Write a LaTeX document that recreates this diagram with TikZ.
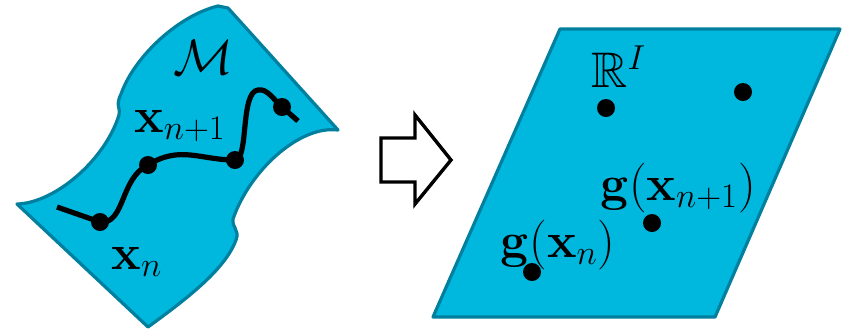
\documentclass[tikz,border=0pt]{standalone}
\usepackage{amsmath}
\usepackage{amssymb}
\usepackage{xcolor}
\usepackage{tikz}
\usetikzlibrary{positioning,calc}
\definecolor{sheetfill}{RGB}{0,183,222}
\definecolor{sheetedge}{RGB}{0,128,158}

\begin{document}
\begin{tikzpicture}[x=0.5pt, y=-0.5pt,
    sheet/.style={fill=sheetfill, draw=sheetedge, line width=1.6pt, line join=round},
    pt/.style={circle, fill=black, inner sep=0pt, minimum size=9pt},
    lbl/.style={font=\fontsize{25}{29}\selectfont, inner sep=0pt}]

\useasboundingbox (0,0) rectangle (846,329);

% curved sheet on the left
\draw[sheet] (218,6) -- (228,8) -- (338,130)
    .. controls (300,125) and (250,170) .. (233,219)
    .. controls (231,226) and (240,230) .. (236,240)
    .. controls (225,270) and (185,300) .. (148,327)
    -- (17,204)
    .. controls (55,203) and (105,160) .. (119,115)
    .. controls (121,108) and (115,106) .. (121,94)
    .. controls (135,55) and (180,15) .. (218,6) -- cycle;

\node[lbl] (manif) at (203,57) {$\mathcal{M}$};

\coordinate (cstart) at (57,207);
\coordinate (ctop) at (258,90);
\coordinate (cend) at (298,121);
\node[pt] (d1) at (100,222) {};
\node[pt] (d2) at (148,165) {};
\node[pt] (d3) at (235,160) {};
\node[pt] (d4) at (282,107) {};

\draw[line width=2.6pt] (cstart) -- (d1.center)
    .. controls (125,225) and (120,178) .. (d2.center)
    .. controls (180,145) and (200,160) .. (d3.center)
    .. controls (249,160) and (240,92) .. (ctop)
    .. controls (267,88) and (274,100) .. (d4.center) -- (cend);

\node[lbl] (xnext) at (180,126) {$\mathbf{x}_{n+1}$};
\node[lbl] (xcur) at (137,262) {$\mathbf{x}_{n}$};

% block arrow
\draw[line width=1.7pt, fill=white, line join=miter]
    (381,138) -- (415,138) -- (415,115) -- (451,160) -- (415,204)
    -- (415,182) -- (381,182) -- cycle;

% flat plane on the right
\draw[sheet] (560,29) -- (840,29) -- (715,317) -- (433,317) -- cycle;

\node[lbl] (space) at (619,67) {$\mathbb{R}^{I}$};

\node[pt] (e1) at (606,108) {};
\node[pt] (e2) at (743,92) {};
\node[pt] (gnext) at (652,223) {};
\node[pt] (gcur) at (532,272) {};

\node[lbl] (gxnext) at (678,188) {$\mathbf{g}(\mathbf{x}_{n+1})$};
\node[lbl] (gxcur) at (558,245) {$\mathbf{g}(\mathbf{x}_{n})$};

\end{tikzpicture}
\end{document}
